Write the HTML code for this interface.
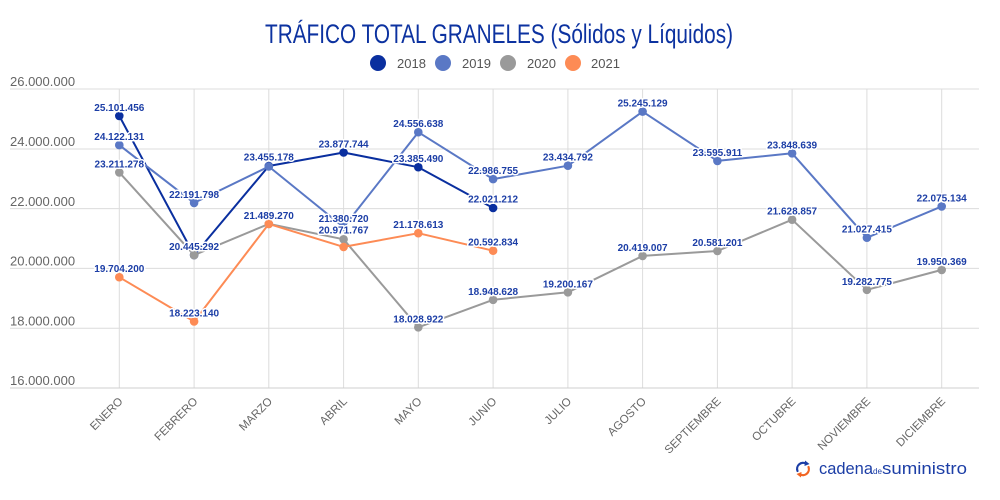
<!DOCTYPE html>
<html><head><meta charset="utf-8"><style>
html,body{margin:0;padding:0;background:#fff;}
svg{display:block;}
.yl{font-family:"Liberation Sans",sans-serif;font-size:13px;fill:#666;}
.xl{font-family:"Liberation Sans",sans-serif;font-size:11.5px;fill:#666;}
.dl{font-family:"Liberation Sans",sans-serif;font-size:10px;font-weight:bold;fill:#1c3ea6;stroke:#fff;stroke-width:3px;paint-order:stroke fill;stroke-linejoin:round;text-anchor:middle;}
.lg{font-family:"Liberation Sans",sans-serif;font-size:13px;fill:#555;}
</style></head><body>
<svg width="1000" height="500" viewBox="0 0 1000 500" xmlns="http://www.w3.org/2000/svg">
<rect width="1000" height="500" fill="#fff"/>
<text x="265" y="43" textLength="468" lengthAdjust="spacingAndGlyphs" font-family="Liberation Sans, sans-serif" font-size="27" fill="#0c32a0">TRÁFICO TOTAL GRANELES (Sólidos y Líquidos)</text>
<!-- legend -->
<circle cx="378" cy="63" r="8" fill="#0a2f9f"/><text class="lg" x="397" y="68">2018</text>
<circle cx="443" cy="63" r="8" fill="#5a78c5"/><text class="lg" x="462" y="68">2019</text>
<circle cx="508" cy="63" r="8" fill="#9a9a9a"/><text class="lg" x="527" y="68">2020</text>
<circle cx="573" cy="63" r="8" fill="#fd8b55"/><text class="lg" x="591" y="68">2021</text>
<!-- grid -->
<g stroke="#dcdcdc" stroke-width="1">
<line x1="10" y1="89" x2="979" y2="89"/>
<line x1="10" y1="149" x2="979" y2="149"/>
<line x1="10" y1="208.6" x2="979" y2="208.6"/>
<line x1="10" y1="268.4" x2="979" y2="268.4"/>
<line x1="10" y1="328.2" x2="979" y2="328.2"/>
<line x1="119.3" y1="89" x2="119.3" y2="388"/>
<line x1="194.1" y1="89" x2="194.1" y2="388"/>
<line x1="268.8" y1="89" x2="268.8" y2="388"/>
<line x1="343.6" y1="89" x2="343.6" y2="388"/>
<line x1="418.3" y1="89" x2="418.3" y2="388"/>
<line x1="493.1" y1="89" x2="493.1" y2="388"/>
<line x1="567.9" y1="89" x2="567.9" y2="388"/>
<line x1="642.6" y1="89" x2="642.6" y2="388"/>
<line x1="717.4" y1="89" x2="717.4" y2="388"/>
<line x1="792.1" y1="89" x2="792.1" y2="388"/>
<line x1="866.9" y1="89" x2="866.9" y2="388"/>
<line x1="941.7" y1="89" x2="941.7" y2="388"/>
</g>
<line x1="10" y1="388" x2="979" y2="388" stroke="#cfcfcf" stroke-width="1"/>
<!-- y labels -->
<text class="yl" x="10" y="86">26.000.000</text>
<text class="yl" x="10" y="146">24.000.000</text>
<text class="yl" x="10" y="206">22.000.000</text>
<text class="yl" x="10" y="265.5">20.000.000</text>
<text class="yl" x="10" y="325.5">18.000.000</text>
<text class="yl" x="10" y="385">16.000.000</text>
<!-- x labels -->
<g class="xl" text-anchor="end">
<text transform="translate(123.5,402) rotate(-45)">ENERO</text>
<text transform="translate(198.3,402) rotate(-45)">FEBRERO</text>
<text transform="translate(273,402) rotate(-45)">MARZO</text>
<text transform="translate(347.8,402) rotate(-45)">ABRIL</text>
<text transform="translate(422.5,402) rotate(-45)">MAYO</text>
<text transform="translate(497.3,402) rotate(-45)">JUNIO</text>
<text transform="translate(572.1,402) rotate(-45)">JULIO</text>
<text transform="translate(646.8,402) rotate(-45)">AGOSTO</text>
<text transform="translate(721.6,402) rotate(-45)">SEPTIEMBRE</text>
<text transform="translate(796.3,402) rotate(-45)">OCTUBRE</text>
<text transform="translate(871.1,402) rotate(-45)">NOVIEMBRE</text>
<text transform="translate(945.9,402) rotate(-45)">DICIEMBRE</text>
</g>
<!-- series 2018 -->
<g fill="none" stroke-width="2" stroke-linejoin="round">
<polyline stroke="#0a2f9f" points="119.3,115.9 194.1,255.1 268.8,166 343.6,152.5 418.3,167.2 493.1,208"/>
<polyline stroke="#5a78c5" points="119.3,145.1 194.1,202.9 268.8,166.5 343.6,227.1 418.3,132.2 493.1,179.1 567.9,165.7 642.6,111.6 717.4,160.9 792.1,153.3 866.9,237.7 941.7,206.4"/>
<polyline stroke="#9a9a9a" points="119.3,172.4 194.1,255.1 268.8,223.9 343.6,239.3 418.3,327.3 493.1,299.8 567.9,292.3 642.6,255.9 717.4,251 792.1,219.7 866.9,289.8 941.7,269.9"/>
<polyline stroke="#fd8b55" points="119.3,277.2 194.1,321.5 268.8,223.9 343.6,246.9 418.3,233.2 493.1,250.7"/>
</g>
<g fill="#0a2f9f">
<circle cx="119.3" cy="115.9" r="4.3"/><circle cx="194.1" cy="255.1" r="4.3"/><circle cx="268.8" cy="166" r="4.3"/><circle cx="343.6" cy="152.5" r="4.3"/><circle cx="418.3" cy="167.2" r="4.3"/><circle cx="493.1" cy="208" r="4.3"/>
</g>
<g fill="#5a78c5">
<circle cx="119.3" cy="145.1" r="4.3"/><circle cx="194.1" cy="202.9" r="4.3"/><circle cx="268.8" cy="166.5" r="4.3"/><circle cx="343.6" cy="227.1" r="4.3"/><circle cx="418.3" cy="132.2" r="4.3"/><circle cx="493.1" cy="179.1" r="4.3"/><circle cx="567.9" cy="165.7" r="4.3"/><circle cx="642.6" cy="111.6" r="4.3"/><circle cx="717.4" cy="160.9" r="4.3"/><circle cx="792.1" cy="153.3" r="4.3"/><circle cx="866.9" cy="237.7" r="4.3"/><circle cx="941.7" cy="206.4" r="4.3"/>
</g>
<g fill="#9a9a9a">
<circle cx="119.3" cy="172.4" r="4.3"/><circle cx="194.1" cy="255.1" r="4.3"/><circle cx="268.8" cy="223.9" r="4.3"/><circle cx="343.6" cy="239.3" r="4.3"/><circle cx="418.3" cy="327.3" r="4.3"/><circle cx="493.1" cy="299.8" r="4.3"/><circle cx="567.9" cy="292.3" r="4.3"/><circle cx="642.6" cy="255.9" r="4.3"/><circle cx="717.4" cy="251" r="4.3"/><circle cx="792.1" cy="219.7" r="4.3"/><circle cx="866.9" cy="289.8" r="4.3"/><circle cx="941.7" cy="269.9" r="4.3"/>
</g>
<g fill="#fd8b55">
<circle cx="119.3" cy="277.2" r="4.3"/><circle cx="194.1" cy="321.5" r="4.3"/><circle cx="268.8" cy="223.9" r="4.3"/><circle cx="343.6" cy="246.9" r="4.3"/><circle cx="418.3" cy="233.2" r="4.3"/><circle cx="493.1" cy="250.7" r="4.3"/>
</g>
<!-- data labels -->
<g class="dl">
<text x="119.3" y="111">25.101.456</text>
<text x="119.3" y="140">24.122.131</text>
<text x="119.3" y="167.4">23.211.278</text>
<text x="119.3" y="272.2">19.704.200</text>
<text x="194.1" y="197.9">22.191.798</text>
<text x="194.1" y="250.1">20.445.292</text>
<text x="194.1" y="316.5">18.223.140</text>
<text x="268.8" y="160.7">23.455.178</text>
<text x="268.8" y="218.9">21.489.270</text>
<text x="343.6" y="147.5">23.877.744</text>
<text x="343.6" y="222">21.380.720</text>
<text x="343.6" y="233.3">20.971.767</text>
<text x="418.3" y="127.2">24.556.638</text>
<text x="418.3" y="162.2">23.385.490</text>
<text x="418.3" y="228.2">21.178.613</text>
<text x="418.3" y="322.3">18.028.922</text>
<text x="493.1" y="174.1">22.986.755</text>
<text x="493.1" y="202.5">22.021.212</text>
<text x="493.1" y="245.7">20.592.834</text>
<text x="493.1" y="294.8">18.948.628</text>
<text x="567.9" y="160.7">23.434.792</text>
<text x="567.9" y="287.3">19.200.167</text>
<text x="642.6" y="106.6">25.245.129</text>
<text x="642.6" y="250.9">20.419.007</text>
<text x="717.4" y="155.9">23.595.911</text>
<text x="717.4" y="246">20.581.201</text>
<text x="792.1" y="148.3">23.848.639</text>
<text x="792.1" y="214.7">21.628.857</text>
<text x="866.9" y="232.7">21.027.415</text>
<text x="866.9" y="284.8">19.282.775</text>
<text x="941.7" y="201.4">22.075.134</text>
<text x="941.7" y="264.9">19.950.369</text>
</g>
<!-- logo -->
<g fill="none" stroke-width="2.2" stroke-linecap="round">
<path d="M797.5,471 A6,6 0 0 1 806,463.6" stroke="#1c3ea6"/>
<path d="M808.5,467 A6,6 0 0 1 800,474.4" stroke="#f26522"/>
</g>
<polygon points="805,460.5 809.5,464 804.5,466" fill="#1c3ea6"/>
<polygon points="801,477.5 796.5,474 801.5,472" fill="#f26522"/>
<text x="819" y="474" textLength="54" lengthAdjust="spacingAndGlyphs" font-family="Liberation Sans, sans-serif" font-size="17" fill="#1c3ea6">cadena</text>
<text x="873" y="474" textLength="9" lengthAdjust="spacingAndGlyphs" font-family="Liberation Sans, sans-serif" font-size="8" fill="#1c3ea6">de</text>
<text x="882" y="474" textLength="85" lengthAdjust="spacingAndGlyphs" font-family="Liberation Sans, sans-serif" font-size="17" fill="#1c3ea6">suministro</text>
</svg>
</body></html>
